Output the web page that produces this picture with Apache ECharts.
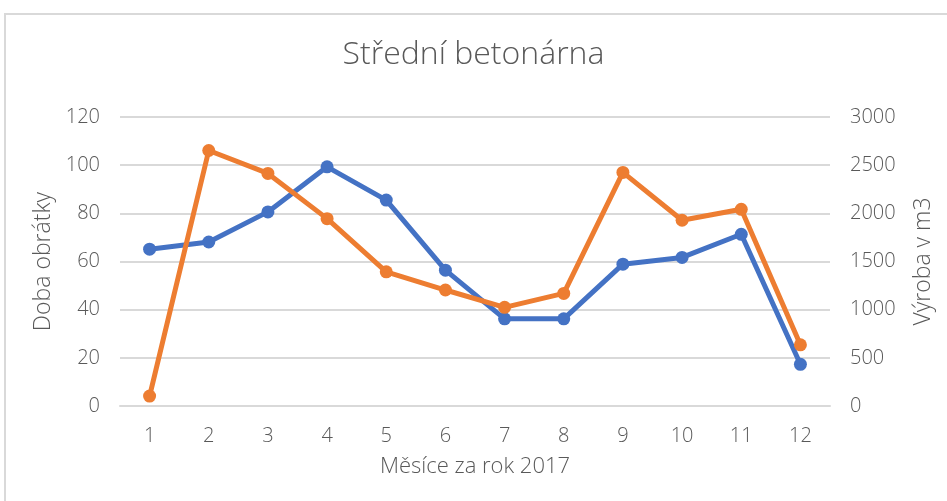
<!DOCTYPE html>
<html>
<head>
<meta charset="utf-8">
<script src="https://cdn.jsdelivr.net/npm/echarts@6/dist/echarts.min.js"></script>
<style>
  html, body { margin: 0; padding: 0; background: #fff; }
  #frame { position: absolute; left: 4px; top: 13px; width: 1000px; height: 600px; border: 2px solid #d9d9d9; box-sizing: border-box; }
  #main { position: absolute; left: 0; top: 0; width: 947px; height: 501px; }
</style>
</head>
<body>
<div id="frame"></div>
<div id="main"></div>
<script>
// data
var months = ['1', '2', '3', '4', '5', '6', '7', '8', '9', '10', '11', '12'];
var dobaObratky = [65.1, 68.1, 80.6, 99.3, 85.5, 56.4, 36.2, 36.2, 58.9, 61.7, 71.3, 17.3];
var vyroba = [103, 2652, 2414, 1945, 1393, 1204, 1024, 1169, 2425, 1928, 2042, 635];

var textColor = '#595959';
var font = '"Open Sans", "DejaVu Sans", sans-serif';

var myChart = echarts.init(document.getElementById('main'));

var option = {
    animation: false,
    title: {
        text: 'Střední betonárna',
        left: 'center',
        top: 34,
        textStyle: { color: textColor, fontFamily: font, fontWeight: 300, fontSize: 32 }
    },
    grid: { left: 120, right: 117, top: 117, bottom: 95 },
    xAxis: {
        type: 'category',
        data: months,
        boundaryGap: true,
        name: 'Měsíce za rok 2017',
        nameLocation: 'middle',
        nameGap: 50,
        nameTextStyle: { color: textColor, fontFamily: font, fontWeight: 300, fontSize: 22 },
        axisLine: { lineStyle: { color: '#d9d9d9', width: 2 } },
        axisTick: { show: false },
        axisLabel: { color: textColor, fontFamily: font, fontWeight: 300, fontSize: 20, margin: 20 }
    },
    yAxis: [{
        type: 'value',
        min: 0, max: 120, interval: 20,
        name: 'Doba obrátky',
        nameLocation: 'middle',
        nameGap: 63,
        nameTextStyle: { color: textColor, fontFamily: font, fontWeight: 300, fontSize: 23 },
        axisLabel: { color: textColor, fontFamily: font, fontWeight: 300, fontSize: 20, margin: 20 },
        splitLine: { lineStyle: { color: '#d9d9d9', width: 2 } },
        axisLine: { show: false },
        axisTick: { show: false }
    }, {
        type: 'value',
        min: 0, max: 3000, interval: 500,
        name: 'Výroba v m3',
        nameLocation: 'middle',
        nameGap: 82,
        nameTextStyle: { color: textColor, fontFamily: font, fontWeight: 300, fontSize: 23 },
        axisLabel: { color: textColor, fontFamily: font, fontWeight: 300, fontSize: 20, margin: 20,
            formatter: function (v) { return String(v); } },
        splitLine: { show: false },
        axisLine: { show: false },
        axisTick: { show: false }
    }],
    series: [{
        name: 'Doba obrátky',
        type: 'line',
        yAxisIndex: 0,
        data: dobaObratky,
        symbol: 'circle',
        symbolSize: 13,
        lineStyle: { color: '#4472C4', width: 5 },
        itemStyle: { color: '#4472C4' }
    }, {
        name: 'Výroba v m3',
        type: 'line',
        yAxisIndex: 1,
        data: vyroba,
        symbol: 'circle',
        symbolSize: 13,
        lineStyle: { color: '#ED7D31', width: 5 },
        itemStyle: { color: '#ED7D31' }
    }]
};

myChart.setOption(option);
</script>
</body>
</html>
